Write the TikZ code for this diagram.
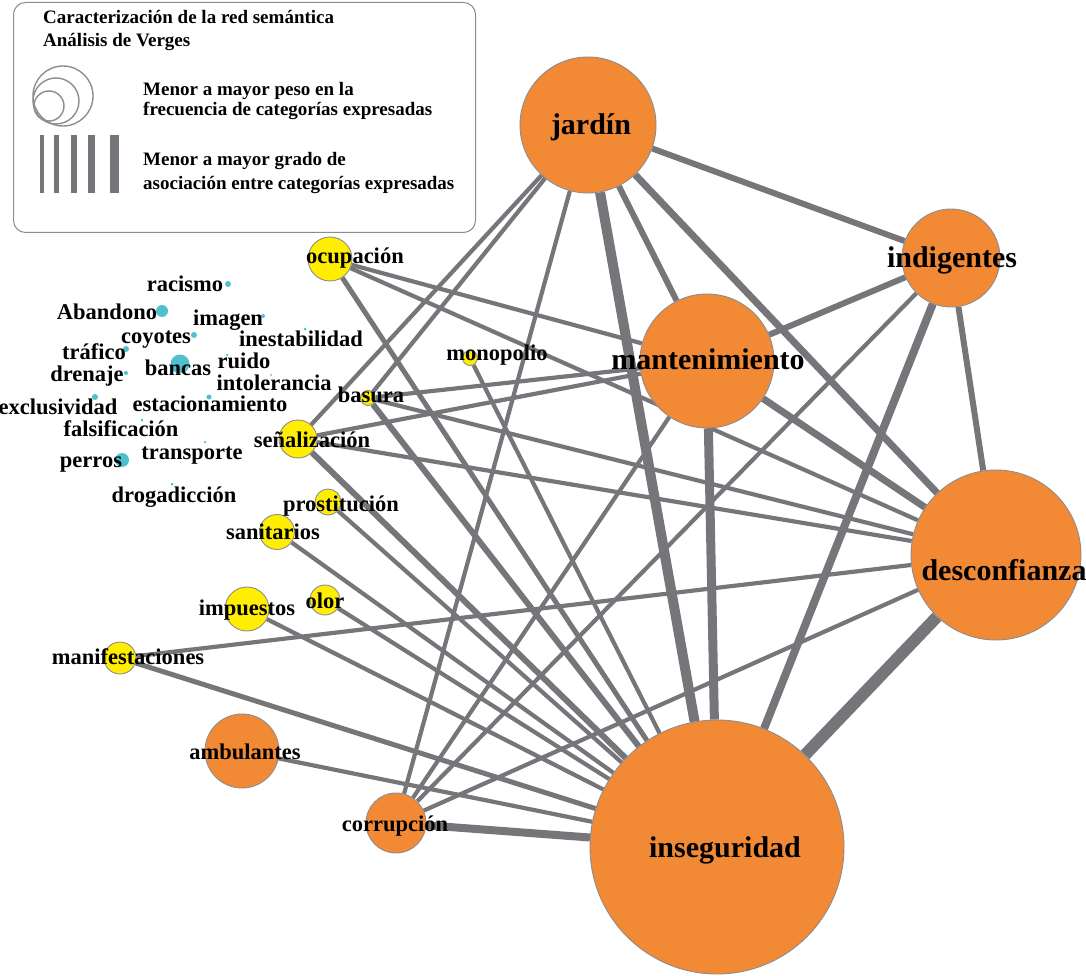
\documentclass[tikz,border=0pt]{standalone}
\usepackage{fontspec}
\setmainfont{Liberation Serif}
\usetikzlibrary{backgrounds}
\definecolor{edgec}{RGB}{118,118,122}
\definecolor{orng}{RGB}{242,137,52}
\definecolor{yel}{RGB}{255,238,0}
\definecolor{cyn}{RGB}{78,192,206}
\definecolor{bord}{RGB}{140,140,145}
\begin{document}
\begin{tikzpicture}[x=1pt,y=-1pt,
 vtx/.style={circle, draw=bord, line width=0.9pt, inner sep=0, minimum size=#1},
 onode/.style={vtx=#1, fill=orng},
 ynode/.style={vtx=#1, fill=yel},
 cnode/.style={circle, fill=cyn, inner sep=0, minimum size=#1},
 big/.style={font=\bfseries\fontsize{30}{31}\selectfont, inner sep=0, text height=0.7em, text depth=0.22em, yshift=-5pt},
 lbl/.style={font=\bfseries\fontsize{22.5}{24}\selectfont, inner sep=0, text height=0.68em, text depth=0.2em, yshift=-5pt},
 leg/.style={font=\bfseries\fontsize{19}{21}\selectfont, inner sep=0, anchor=west, text height=0.7em, text depth=0.22em, yshift=-3pt},
 lk/.style={draw=edgec, line width=#1},
 legc/.style={draw=bord, line width=1.4pt},
 bar/.style={fill=edgec, draw=none},
]
\useasboundingbox (0,0) rectangle (1086,976);

% legend
\node[draw=bord, line width=1pt, rounded corners=12pt, minimum width=462pt, minimum height=230pt, anchor=north west] (legend) at (13,2) {};
\node[leg] (t1) at (43,18) {Caracterización de la red semántica};
\node[leg] (t2) at (43,41) {Análisis de Verges};
\node[legc, circle, minimum size=60pt, inner sep=0] (lc1) at (63,96) {};
\node[legc, circle, minimum size=46pt, inner sep=0] (lc2) at (56,101) {};
\node[legc, circle, minimum size=30pt, inner sep=0] (lc3) at (49,106) {};
\fill[bar] (40,135) rectangle (44,193);
\fill[bar] (54,135) rectangle (59,193);
\fill[bar] (71,135) rectangle (77,193);
\fill[bar] (88,135) rectangle (95,193);
\fill[bar] (110,135) rectangle (119,193);
\node[leg] (t3) at (143,90) {Menor a mayor peso en la};
\node[leg] (t4) at (143,110) {frecuencia de categorías expresadas};
\node[leg] (t5) at (143,160) {Menor a mayor grado de};
\node[leg] (t6) at (143,184) {asociación entre categorías expresadas};

% orange nodes
\node[onode=136pt] (jar) at (588,125) {};
\node[onode=98pt] (ind) at (951,258) {};
\node[onode=134pt] (man) at (707,361) {};
\node[onode=170pt] (des) at (996,555) {};
\node[onode=254pt] (ins) at (717,847) {};
\node[onode=74pt] (amb) at (242,751) {};
\node[onode=60pt] (cor) at (396,823) {};

% yellow nodes
\node[ynode=44pt] (ocu) at (330,259) {};
\node[ynode=15pt] (mon) at (470,358) {};
\node[ynode=15pt] (bas) at (368,398) {};
\node[ynode=38pt] (sen) at (298,439) {};
\node[ynode=26pt] (pro) at (328,502) {};
\node[ynode=35pt] (san) at (277,532) {};
\node[ynode=44pt] (imp) at (247,609) {};
\node[ynode=30pt] (olo) at (325,600) {};
\node[ynode=32pt] (mnf) at (120,658) {};

% cyan nodes
\node[cnode=6pt] (rac) at (228,284) {};
\node[cnode=12pt] (aba) at (162,311) {};
\node[cnode=4pt] (ima) at (263,316) {};
\node[cnode=6pt] (coy) at (194,335) {};
\node[cnode=3pt] (ine) at (305,329) {};
\node[cnode=6pt] (tra) at (126,349) {};
\node[cnode=19pt] (ban) at (180,364) {};
\node[cnode=2.5pt] (rui) at (227,355) {};
\node[cnode=4pt] (dre) at (126,373) {};
\node[cnode=2pt] (int) at (271,375) {};
\node[cnode=6pt] (exc) at (95,397) {};
\node[cnode=5pt] (est) at (209,397) {};
\node[cnode=3pt] (fal) at (142,420) {};
\node[cnode=2.5pt] (trn) at (205,442) {};
\node[cnode=14pt] (per) at (122,460) {};
\node[cnode=3pt] (dro) at (172,484) {};

% edges
\begin{pgfonlayer}{background}
\draw[lk=10pt] (jar) -- (ins);
\draw[lk=9pt] (man) -- (ins);
\draw[lk=12pt] (des) -- (ins);
\draw[lk=8pt] (ind) -- (ins);
\draw[lk=8pt] (cor) -- (ins);
\draw[lk=7pt] (jar) -- (des);
\draw[lk=7pt] (man) -- (des);
\draw[lk=6pt] (jar) -- (man);
\draw[lk=6pt] (jar) -- (ind);
\draw[lk=6pt] (ind) -- (man);
\draw[lk=6pt] (ind) -- (des);
\draw[lk=6pt] (bas) -- (ins);
\draw[lk=6pt] (sen) -- (ins);
\draw[lk=5pt] (ocu) -- (ins);
\draw[lk=4.2pt] (jar) -- (cor);
\draw[lk=4.2pt] (jar) -- (sen);
\draw[lk=4.2pt] (jar) -- (bas);
\draw[lk=4.2pt] (man) -- (ocu);
\draw[lk=4.2pt] (man) -- (bas);
\draw[lk=4.2pt] (man) -- (sen);
\draw[lk=4.2pt] (man) -- (cor);
\draw[lk=4.2pt] (ind) -- (cor);
\draw[lk=4.2pt] (des) -- (ocu);
\draw[lk=4.2pt] (des) -- (bas);
\draw[lk=4.2pt] (des) -- (sen);
\draw[lk=4.2pt] (des) -- (mnf);
\draw[lk=4.2pt] (des) -- (cor);
\draw[lk=4.2pt] (ins) -- (mon);
\draw[lk=4.2pt] (ins) -- (pro);
\draw[lk=4.2pt] (ins) -- (san);
\draw[lk=4.2pt] (ins) -- (olo);
\draw[lk=4.2pt] (ins) -- (imp);
\draw[lk=5pt] (ins) -- (mnf);
\draw[lk=4.2pt] (ins) -- (amb);
\end{pgfonlayer}

% labels
\node[big] (ljar) at (591,127) {jardín};
\node[big] (lind) at (952,260) {indigentes};
\node[big] (lman) at (708,362) {mantenimiento};
\node[big] (ldes) at (1004,573) {desconfianza};
\node[big] (lins) at (725,850) {inseguridad};
\node[lbl] (lamb) at (245,752) {ambulantes};
\node[lbl] (lcor) at (395,824) {corrupción};
\node[lbl] (locu) at (355,256) {ocupación};
\node[lbl] (lmon) at (497,353) {monopolio};
\node[lbl] (lbas) at (371,395) {basura};
\node[lbl] (lsen) at (312,440) {señalización};
\node[lbl] (lpro) at (341,504) {prostitución};
\node[lbl] (lsan) at (273,532) {sanitarios};
\node[lbl] (limp) at (247,608) {impuestos};
\node[lbl] (lolo) at (325,601) {olor};
\node[lbl] (lmnf) at (128,657) {manifestaciones};
\node[lbl] (lrac) at (185,284) {racismo};
\node[lbl] (laba) at (107,312) {Abandono};
\node[lbl] (lima) at (228,318) {imagen};
\node[lbl] (lcoy) at (156,336) {coyotes};
\node[lbl] (line) at (301,339) {inestabilidad};
\node[lbl] (ltra) at (94,352) {tráfico};
\node[lbl] (lban) at (178,368) {bancas};
\node[lbl] (lrui) at (244,361) {ruido};
\node[lbl] (ldre) at (87,374) {drenaje};
\node[lbl] (lint) at (274,383) {intolerancia};
\node[lbl] (lexc) at (58,407) {exclusividad};
\node[lbl] (lest) at (210,404) {estacionamiento};
\node[lbl] (lfal) at (121,429) {falsificación};
\node[lbl] (ltrn) at (192,452) {transporte};
\node[lbl] (lper) at (91,460) {perros};
\node[lbl] (ldro) at (174,495) {drogadicción};
\end{tikzpicture}
\end{document}
